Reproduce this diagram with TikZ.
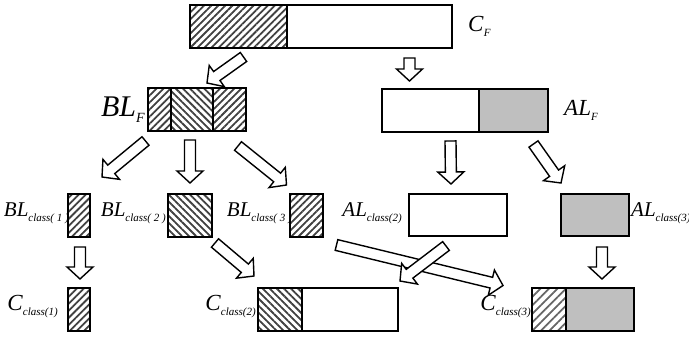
\documentclass[tikz,border=0pt]{standalone}
\usepackage{fontspec}
\setmainfont{Liberation Serif}
\usetikzlibrary{calc,positioning,patterns.meta}

% label with a lowered subscript
\newcommand{\lbl}[2]{\textit{#1}\raisebox{-5pt}{\fontsize{11}{11}\selectfont\textit{#2}}}

% hollow block arrow between two points
\newcommand{\blockarrow}[2]{%
  \coordinate (ba-s) at (#1);
  \coordinate (ba-e) at (#2);
  \coordinate (ba-h) at ($(ba-e)!12pt!(ba-s)$);
  \draw[arrowline] ($(ba-s)!5.5pt!90:(ba-e)$) -- ($(ba-h)!5.5pt!90:(ba-e)$)
    -- ($(ba-h)!13pt!90:(ba-e)$) -- (ba-e) -- ($(ba-h)!13pt!-90:(ba-e)$)
    -- ($(ba-h)!5.5pt!-90:(ba-e)$) -- ($(ba-s)!5.5pt!-90:(ba-e)$) -- cycle;
}

\tikzset{
  box/.style={draw, line width=1.5pt, inner sep=0pt, outer sep=0pt, minimum height=43pt},
  hatchne/.style={box, pattern={Lines[angle=45,distance=5pt,line width=1.8pt]}, pattern color=black!75},
  hatchnw/.style={box, pattern={Lines[angle=-45,distance=5pt,line width=1.8pt]}, pattern color=black!75},
  greybox/.style={box, fill=black!25},
  whitebox/.style={box, fill=white},
  arrowline/.style={draw, line width=1.4pt, fill=white, line join=miter},
  txt/.style={inner sep=0pt, font=\fontsize{21}{21}\selectfont},
  ctxt/.style={inner sep=0pt, font=\fontsize{23}{23}\selectfont},
}

\begin{document}
\begin{tikzpicture}[x=1pt,y=-1pt]
\useasboundingbox (0,0) rectangle (689,337);

% top bar
\node[hatchne, minimum width=97pt, anchor=north west] (cfh) at (190,5) {};
\node[whitebox, minimum width=165pt, right=0pt of cfh] (cfw) {};
\node[ctxt, anchor=west] (cflab) at ($(cfw.east)+(16,0)$) {\lbl{C}{F}};

% second row
\node[hatchne, minimum width=23pt, anchor=north west] (blf1) at (148,88) {};
\node[hatchnw, minimum width=42pt, right=0pt of blf1] (blf2) {};
\node[hatchne, minimum width=33pt, right=0pt of blf2] (blf3) {};
\node[inner sep=0pt, font=\fontsize{30}{30}\selectfont, anchor=east] (blflab) at ($(blf1.west)+(-3,0)$)
  {\textit{BL}\raisebox{-6pt}{\fontsize{14}{14}\selectfont\textit{F}}};

\node[whitebox, minimum width=97pt, anchor=north west] (alfw) at (382,89) {};
\node[greybox, minimum width=69pt, right=0pt of alfw] (alfg) {};
\node[inner sep=0pt, font=\fontsize{23}{23}\selectfont, anchor=west] (alflab) at ($(alfg.east)+(16,0)$) {\lbl{AL}{F}};

% third row
\node[hatchne, minimum width=22pt, anchor=north west] (bl1) at (68,194) {};
\node[hatchnw, minimum width=44pt, anchor=north west] (bl2) at (168,194) {};
\node[hatchne, minimum width=33pt, anchor=north west] (bl3) at (290,194) {};
\node[whitebox, minimum width=98pt, minimum height=42pt, anchor=north west] (al2) at (409,194) {};
\node[greybox, minimum width=68pt, minimum height=42pt, anchor=north west] (al3) at (561,194) {};

\node[txt, anchor=east] (bl1lab) at ($(bl1.west)+(1,-2)$) {\lbl{BL}{class( 1 )}};
\node[txt, anchor=east] (bl2lab) at ($(bl2.west)+(-2,-2)$) {\lbl{BL}{class( 2 )}};
\node[txt, anchor=east] (bl3lab) at ($(bl3.west)+(2,-2)$) {\lbl{BL}{class( 3 )}};
\node[txt, anchor=east] (al2lab) at ($(al2.west)+(-7,-2)$) {\lbl{AL}{class(2)}};
\node[txt, anchor=west] (al3lab) at ($(al3.east)+(2,-2)$) {\lbl{AL}{class(3)}};

% bottom row
\node[hatchne, minimum width=22pt, anchor=north west] (c1) at (68,288) {};
\node[hatchnw, minimum width=44pt, anchor=north west] (c2h) at (258,288) {};
\node[whitebox, minimum width=96pt, right=0pt of c2h] (c2w) {};
\node[box, pattern={Lines[angle=45,distance=6pt,line width=1.8pt]}, pattern color=black!60,
  minimum width=34pt, anchor=north west] (c3h) at (532,288) {};
\node[greybox, minimum width=68pt, right=0pt of c3h] (c3g) {};

\node[ctxt, anchor=east] (c1lab) at ($(c1.west)+(-10,-3)$) {\lbl{C}{class(1)}};
\node[ctxt, anchor=east] (c2lab) at ($(c2h.west)+(-2,-3)$) {\lbl{C}{class(2)}};
\node[ctxt, anchor=east] (c3lab) at ($(c3h.west)+(-1,-3)$) {\lbl{C}{class(3)}};

% arrows
\blockarrow{$(cfh.south)+(5,9)$}{$(blf2.north)+(15,-5)$}
\blockarrow{$(cfw.south)+(40,10)$}{$(alfw.north)+(-21,-8)$}
\blockarrow{$(blf1.south)+(-14,10)$}{$(bl1.north)+(23,-17)$}
\blockarrow{$(blf2.south)+(-2,9)$}{$(bl2.north)+(0,-11)$}
\blockarrow{$(blf3.south)+(8.5,15)$}{$(bl3.north)+(-20,-9)$}
\blockarrow{$(alfw.south)+(20,9)$}{$(al2.north)+(-7,-10)$}
\blockarrow{$(alfg.south)+(20,12)$}{$(al3.north)+(-34,-11)$}
\blockarrow{$(bl1.south)+(1,10)$}{$(c1.north)+(1,-9)$}
\blockarrow{$(bl2.south)+(25,6)$}{$(c2h.north)+(-26,-12)$}
\blockarrow{$(bl3.south)+(30,8)$}{$(c3h.west)+(-29,-24)$}
\blockarrow{$(al2.south)+(-12,10)$}{$(c2w.north)+(50,-7)$}
\blockarrow{$(al3.south)+(7,11)$}{$(c3g.north)+(2,-9)$}
\end{tikzpicture}
\end{document}
